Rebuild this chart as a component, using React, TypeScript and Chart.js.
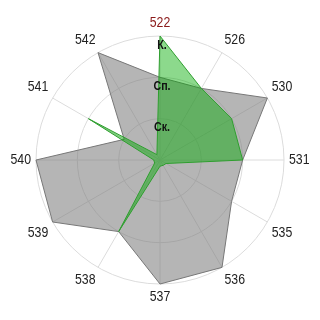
import React, { useEffect, useRef } from "react";
import { Chart, registerables } from "chart.js";

Chart.register(...registerables);

const categories: string[] = ["522", "526", "530", "531", "535", "536", "537", "538", "539", "540", "541", "542"];
const greenValues: number[] = [3, 2, 2, 2, 0.17, 0.15, 0.15, 2, 0.15, 0.15, 2, 0.15];
const grayValues: number[] = [2, 2, 3, 2, 2, 3, 3, 2, 3, 3, 1, 3];
const tickValues: number[] = [1, 2, 3];
const tickLabels: string[] = ["Ск.", "Сп.", "К."];

const FONT = "'Liberation Sans', Arial, sans-serif";
const NARROW = 0.82;

function drawNarrow(ctx: any, text: string, xLeft: number, yMid: number) {
  ctx.save();
  ctx.translate(xLeft, yMid);
  ctx.scale(NARROW, 1);
  ctx.textAlign = "left";
  ctx.textBaseline = "middle";
  ctx.fillText(text, 0, 0);
  ctx.restore();
}

export default function App() {
  const ref = useRef<HTMLCanvasElement | null>(null);
  useEffect(() => {
    if (!ref.current) return;
    const textPlugin = {
      id: "narrowText",
      afterDatasetsDraw(chart: any) {
        const scale = chart.scales.r;
        const ctx = chart.ctx;
        ctx.save();
        // tick labels
        ctx.font = "bold 13px " + FONT;
        ctx.fillStyle = "#111";
        tickValues.forEach((v, i) => {
          const d = scale.getDistanceFromCenterForValue(v);
          const w = ctx.measureText(tickLabels[i]).width * NARROW;
          drawNarrow(ctx, tickLabels[i], scale.xCenter + 2 - w / 2, scale.yCenter - d + 9);
        });
        // point labels
        const size = 15;
        const h = size * 1.1;
        ctx.font = size + "px " + FONT;
        const r = scale.drawingArea + 5;
        categories.forEach((lab, i) => {
          const angle = (i * 360) / categories.length;
          const p = scale.getPointPosition(i, r);
          const w = ctx.measureText(lab).width * NARROW;
          let x = p.x;
          if (angle === 0 || angle === 180) x = p.x - w / 2;
          else if (angle > 180) x = p.x - w;
          let top = p.y;
          if (angle === 90 || angle === 270) top = p.y - h / 2;
          else if (angle < 90 || angle > 270) top = p.y - h;
          ctx.fillStyle = i === 0 ? "#8b1a1a" : "#222";
          drawNarrow(ctx, lab, x, top + h / 2);
        });
        ctx.restore();
      },
    };
    const chart = new Chart(ref.current, {
      type: "radar",
      data: {
        labels: categories,
        datasets: [
          {
            data: greenValues,
            backgroundColor: "rgba(0,170,0,0.45)",
            borderColor: "#2e9e2e",
            borderWidth: 1,
            pointRadius: 0,
            fill: true,
          },
          {
            data: grayValues,
            backgroundColor: "rgba(128,128,128,0.58)",
            borderColor: "#777",
            borderWidth: 1,
            pointRadius: 0,
            fill: true,
          },
        ],
      },
      options: {
        animation: false,
        responsive: false,
        maintainAspectRatio: false,
        layout: { padding: 36 },
        plugins: { legend: { display: false }, tooltip: { enabled: false } },
        elements: { line: { tension: 0 } },
        scales: {
          r: {
            min: 0,
            max: 3,
            ticks: { display: false, stepSize: 1 },
            grid: { color: "#dcdcdc", lineWidth: 1, circular: true },
            angleLines: { color: "#dcdcdc", lineWidth: 1 },
            pointLabels: { display: false },
          },
        },
      },
      plugins: [textPlugin],
    });
    return () => chart.destroy();
  }, []);
  return (
    <div style={{ position: "fixed", left: 0, top: 0, width: 320, height: 320, background: "#fff" }}>
      <canvas ref={ref} width={320} height={320} style={{ width: 320, height: 320 }} />
    </div>
  );
}
